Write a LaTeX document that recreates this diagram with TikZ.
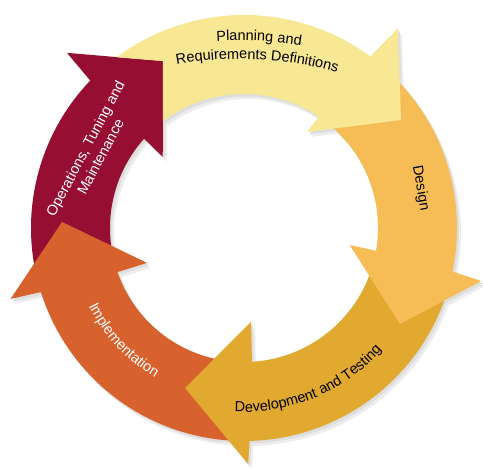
\documentclass[tikz,border=0pt]{standalone}
\usepackage{fontspec}
\newfontfamily\labfam{Liberation Sans}
\newcommand\labfont{\labfam\fontsize{14.5pt}{17pt}\selectfont}
\usetikzlibrary{decorations.text}
\definecolor{cPlan}{HTML}{F8E793}
\definecolor{cDesign}{HTML}{F6BD57}
\definecolor{cDev}{HTML}{E2A931}
\definecolor{cImpl}{HTML}{D8622E}
\definecolor{cOps}{HTML}{960F32}
\begin{document}
\begin{tikzpicture}[x=1pt,y=1pt,
  arr/.style={draw=none},
  shadowA/.style={fill=black!7, draw=none, shift={(4,-5)}},
  shadowB/.style={fill=black!13, draw=none, shift={(2,-2.5)}},
  lab/.style={font=\labfont},
  pPlan/.style={insert path={(126.7:213pt) arc[start angle=126.7,end angle=53.6,radius=213pt] -- (52.4:252pt) -- (34.5:190.6pt) -- (56.7:115pt) -- (56.1:134pt) arc[start angle=56.1,end angle=127.2,radius=134pt] -- (-81.1,166.9) -- cycle}},
  pOps/.style={insert path={(193:213pt) arc[start angle=193,end angle=136.2,radius=213pt] -- (135.3:249pt) -- (115.9:185.6pt) -- (138.8:108pt) -- (138.2:134pt) arc[start angle=138.2,end angle=193,radius=134pt] -- cycle}},
  pImpl/.style={insert path={(268.5:213pt) arc[start angle=268.5,end angle=197.5,radius=213pt] -- (196.9:244pt) -- (178.1:182.1pt) -- (199.8:103pt) -- (199.2:134pt) arc[start angle=199.2,end angle=268.5,radius=134pt] -- cycle}},
  pDev/.style={insert path={(-16:213pt) arc[start angle=-16,end angle=-88.5,radius=213pt] -- (-89:236pt) -- (-110.2:170.5pt) -- (-85.7:94pt) -- (-86.6:134pt) arc[start angle=-86.6,end angle=-16,radius=134pt] -- cycle}},
  pDesign/.style={insert path={(50.5:213pt) arc[start angle=50.5,end angle=-11.8,radius=213pt] -- (-12.6:243pt) -- (-31.6:183.2pt) -- (-9.1:107pt) -- (-9.8:134pt) arc[start angle=-9.8,end angle=50.5,radius=134pt] -- cycle}}]
\fill[white] (-244,-240) rectangle (239,228);
\useasboundingbox (-244,-240) rectangle (239,228);
% soft shadows
\foreach \p in {pPlan,pOps,pImpl,pDev,pDesign} {\path[shadowA, \p];}
\foreach \p in {pPlan,pOps,pImpl,pDev,pDesign} {\path[shadowB, \p];}
% arrows: each head lies over the tail of the next one
\fill[arr, cOps, pOps];
\fill[arr, cImpl, pImpl];
\fill[arr, cDev, pDev];
\fill[arr, cDesign, pDesign];
\fill[arr, cPlan, pPlan];
% Labels
\path[decorate, decoration={text along path, text align=center, text={|\labfont|Planning and}}]
  (-4,-186) ++(112.1:373.5pt) arc[start angle=112.1,end angle=62.1,radius=373.5pt];
\path[decorate, decoration={text along path, text align=center, text={|\labfont|Requirements Definitions}}]
  (-4,-186) ++(112.2:355pt) arc[start angle=112.2,end angle=62.2,radius=355pt];
\node[lab, rotate=-80] (design) at (12.7:181pt) {Design};
\path[decorate, decoration={text along path, text align=center, text={|\labfont|Development and Testing}}]
  (-107.2:184pt) arc[start angle=-107.2,end angle=-27.2,radius=184pt];
\path[decorate, decoration={text along path, text align=center, text color=white, text={|\labfont|Implementation}}]
  (198:174pt) arc[start angle=198,end angle=248,radius=174pt];
\node[lab, rotate=62, align=center, text=white] (ops) at (153.5:169pt) {Operations, Tuning and\\Maintenance};
\end{tikzpicture}
\end{document}
